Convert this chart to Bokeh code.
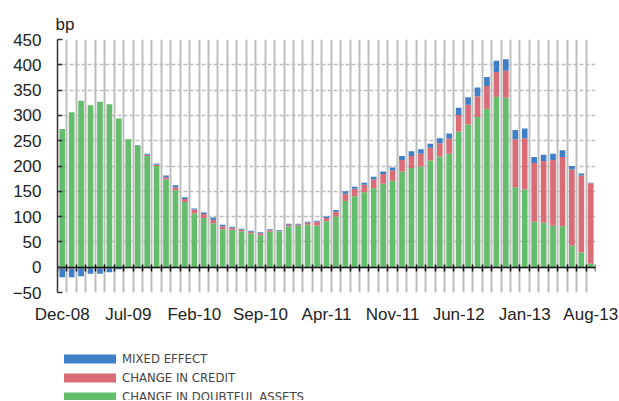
import numpy as np
from bokeh.plotting import figure
from bokeh.layouts import column
from bokeh.models import (ColumnDataSource, LinearAxis, FixedTicker, Range1d, Legend,
                          LegendItem, Grid)
from bokeh.embed import file_html
from bokeh.resources import INLINE

# ---- data (bp), monthly Dec-08 .. Aug-13 ----
months = ["Dec-08", "Jan-09", "Feb-09", "Mar-09", "Apr-09", "May-09", "Jun-09", "Jul-09",
          "Aug-09", "Sep-09", "Oct-09", "Nov-09", "Dec-09", "Jan-10", "Feb-10", "Mar-10",
          "Apr-10", "May-10", "Jun-10", "Jul-10", "Aug-10", "Sep-10", "Oct-10", "Nov-10",
          "Dec-10", "Jan-11", "Feb-11", "Mar-11", "Apr-11", "May-11", "Jun-11", "Jul-11",
          "Aug-11", "Sep-11", "Oct-11", "Nov-11", "Dec-11", "Jan-12", "Feb-12", "Mar-12",
          "Apr-12", "May-12", "Jun-12", "Jul-12", "Aug-12", "Sep-12", "Oct-12", "Nov-12",
          "Dec-12", "Jan-13", "Feb-13", "Mar-13", "Apr-13", "May-13", "Jun-13", "Jul-13",
          "Aug-13"]

doubtful = [273, 306, 329, 320, 327, 322, 294, 253, 240, 220, 200, 174, 152, 129, 106, 97,
            87, 75, 74, 71, 67, 63, 70, 71, 81, 82, 84, 82, 91, 100, 131, 140,
            148, 156, 165, 171, 189, 196, 199, 211, 219, 224, 268, 282, 297, 313, 337, 335,
            158, 154, 90, 88, 82, 81, 43, 29, 7]
credit = [-3, -3, -2, -2, -2, -2, 0, 0, 0.5, 2, 3, 4, 6, 6, 8, 8,
          7, 6, 4, 3, 3, 4, 3, 0.5, 3, 2, 4, 8, 6, 9.5, 14, 15,
          15, 18, 19, 20, 23, 24, 25, 25, 26, 30, 33, 39, 41, 45, 49, 53,
          95, 101, 116, 122, 130, 137, 150, 152, 159]
mixed = [-17, -17, -16, -11, -11, -8, -4, -1, 1, 2, 2, 3, 4, 3, 2, 3,
         4, 3, 2, 2, 2, 2, 2, 1.5, 2, 2, 2, 2, 3, 3.5, 5, 4,
         4, 5, 5, 6, 8, 9, 9, 8, 10, 10, 14, 15, 17, 18, 22, 23,
         18, 19, 12, 12, 12, 13, 7, 4, 1]

label_months = ["Dec-08", "Jul-09", "Feb-10", "Sep-10", "Apr-11", "Nov-11", "Jun-12", "Jan-13", "Aug-13"]
series_names = ["CHANGE IN DOUBTFUL ASSETS", "CHANGE IN CREDIT", "MIXED EFFECT"]
series_colors = ["#63bd6b", "#d96c77", "#3f7fc7"]
y_ticks = [-50, 0, 50, 100, 150, 200, 250, 300, 350, 400, 450]
unit = "bp"

n = len(months)
xs = np.arange(n)

FONT = "Liberation Sans"

p = figure(width=619, height=345, output_backend="svg", toolbar_location=None,
           x_range=Range1d(-0.5, n - 0.5), y_range=Range1d(-50, 450),
           min_border_left=57, min_border_top=39, min_border_right=24, min_border_bottom=53,
           title=unit)
p.outline_line_color = None
p.xaxis.visible = False
p.yaxis.visible = False
p.xgrid.visible = False
p.ygrid.visible = False
p.title.align = "left"
p.title.offset = -2
p.title.standoff = 11
p.title.text_font = FONT
p.title.text_font_size = "17px"
p.title.text_font_style = "normal"
p.title.text_color = "#222222"

boundaries = [i - 0.5 for i in range(n + 1)]

# vertical grid lines between months
vg1 = Grid(dimension=0, ticker=FixedTicker(ticks=boundaries), grid_line_color="#e0e0e0",
           grid_line_width=3)
vg2 = Grid(dimension=0, ticker=FixedTicker(ticks=boundaries), grid_line_color="#bcbcbc",
           grid_line_width=1)
p.add_layout(vg1)
p.add_layout(vg2)
hg = Grid(dimension=1, ticker=FixedTicker(ticks=y_ticks), grid_line_color="#bdbdbd",
          grid_line_width=1.5, grid_line_dash="4 2")
p.add_layout(hg)

# stacked bars (positive and negative parts stacked separately)
pos_base = np.zeros(n)
neg_base = np.zeros(n)
sources = []
for name, vals, col in zip(series_names, [doubtful, credit, mixed], series_colors):
    v = np.array(vals, dtype=float)
    bottom = np.where(v >= 0, pos_base, neg_base)
    top = bottom + v
    pos_base = np.where(v >= 0, pos_base + v, pos_base)
    neg_base = np.where(v < 0, neg_base + v, neg_base)
    src = ColumnDataSource(dict(x=xs, bottom=bottom, top=top))
    sources.append(src)
    p.vbar(x="x", width=0.6, bottom="bottom", top="top", source=src,
           fill_color=col, line_color=None)

# left axis
yax = LinearAxis(ticker=FixedTicker(ticks=y_ticks))
yax.axis_line_color = "#333333"
yax.axis_line_width = 1.5
yax.major_tick_line_color = "#333333"
yax.major_tick_line_width = 1.5
yax.major_tick_in = 5
yax.major_tick_out = 0
yax.minor_tick_line_color = None
yax.major_label_text_font = FONT
yax.major_label_text_font_size = "17px"
yax.major_label_text_color = "#222222"
yax.major_label_standoff = 16
p.add_layout(yax, "left")

# zero line axis with ticks between months
zax = LinearAxis(ticker=FixedTicker(ticks=boundaries), fixed_location=0)
zax.axis_line_color = "#111111"
zax.axis_line_width = 1.5
zax.major_tick_line_color = "#111111"
zax.major_tick_line_width = 1.5
zax.major_tick_in = 3
zax.major_tick_out = 4
zax.minor_tick_line_color = None
zax.major_label_text_color = None
zax.major_label_text_font_size = "1px"
zax.major_label_standoff = 0
p.add_layout(zax, "below")

# bottom label axis
label_idx = [months.index(m) for m in label_months]
bax = LinearAxis(ticker=FixedTicker(ticks=label_idx))
bax.major_label_overrides = {i: m for i, m in zip(label_idx, label_months)}
bax.axis_line_color = None
bax.major_tick_line_color = None
bax.major_tick_out = 0
bax.major_tick_in = 0
bax.minor_tick_line_color = None
bax.major_label_text_font = FONT
bax.major_label_text_font_size = "17px"
bax.major_label_text_color = "#222222"
bax.major_label_standoff = 12
p.add_layout(bax, "below")

# legend in its own strip below the chart (same data, kept out of view)
lg = figure(width=619, height=55, output_backend="svg", toolbar_location=None,
            x_range=Range1d(-0.5, n - 0.5), y_range=Range1d(1000, 2000),
            x_axis_location=None, y_axis_location=None,
            min_border_left=47, min_border_top=6, min_border_right=0, min_border_bottom=0)
lg.outline_line_color = None
lg.grid.visible = False
items = []
for name, col, src in zip(series_names, series_colors, sources):
    r = lg.vbar(x="x", width=0.6, bottom="bottom", top="top", source=src,
                fill_color=col, line_color=None)
    items.append(LegendItem(label=name, renderers=[r]))
legend = Legend(items=items[::-1], location="top_left")
legend.orientation = "vertical"
legend.padding = 0
legend.margin = 0
legend.spacing = 4
legend.glyph_width = 65
legend.glyph_height = 11
legend.label_height = 9
legend.label_standoff = 0
legend.border_line_color = None
legend.background_fill_alpha = 0
legend.label_text_font = "DejaVu Sans Condensed"
legend.label_text_font_size = "13px"
legend.label_text_color = "#444444"
lg.add_layout(legend, "center")

layout = column(p, lg, spacing=0)
open("out.html", "w").write(file_html(layout, INLINE))
